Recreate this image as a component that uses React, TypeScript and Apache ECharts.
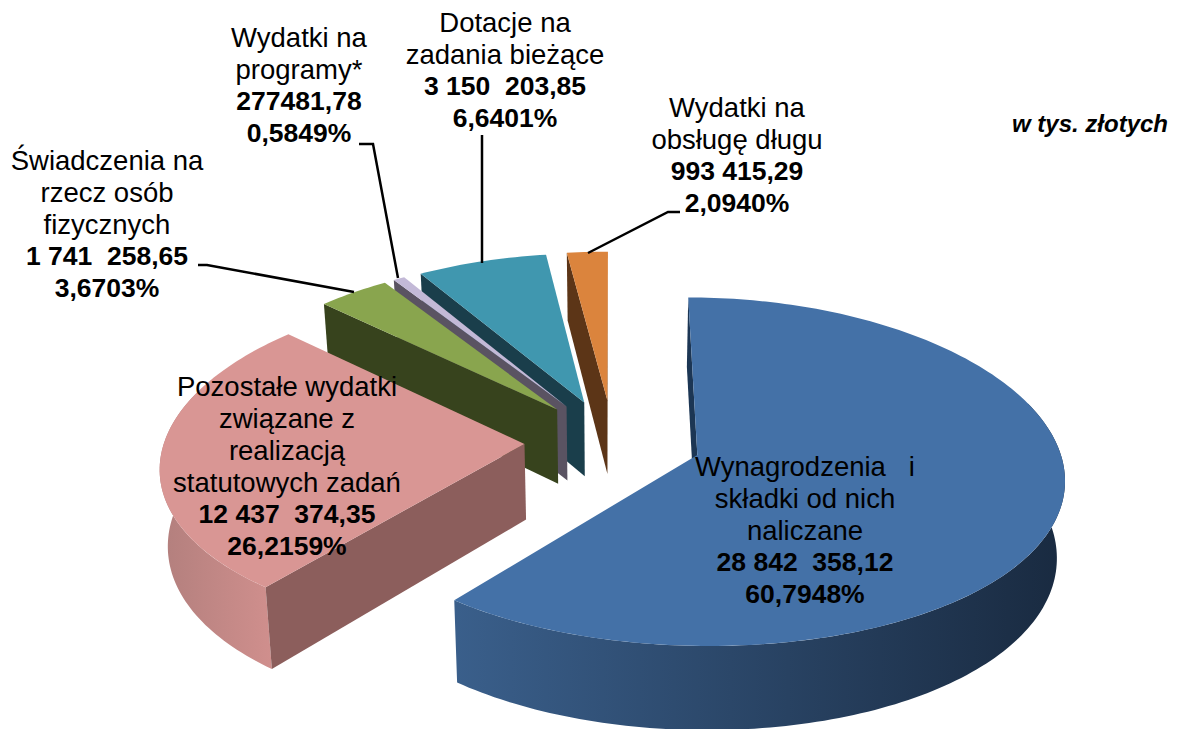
import React, { useEffect, useRef } from "react";
import * as echarts from "echarts";

const sliceNames = ["Wynagrodzenia i składki od nich naliczane", "Pozostałe wydatki związane z realizacją statutowych zadań", "Świadczenia na rzecz osób fizycznych", "Wydatki na programy*", "Dotacje na zadania bieżące", "Wydatki na obsługę długu"];
const sliceValues = [28842358.12, 12437374.35, 1741258.65, 277481.78, 3150203.85, 993415.29];
const topColors = ["#4471a7", "#d99694", "#89a54e", "#c3b9d7", "#4097af", "#db843d"];
const cutColors = ["#1c3654", "#8c5e5c", "#37431d", "#5a5362", "#1a3e4b", "#5c3517"];
const wallStart = ["#3a5f8b", "#b27f7d", "#37431d", "#5a5362", "#1a3e4b", "#5c3517"];
const wallEnd = ["#192a40", "#d08f8d", "#37431d", "#5a5362", "#1a3e4b", "#5c3517"];
const labelLines = [
  ["Wynagrodzenia   i", "składki od nich", "naliczane"],
  ["Pozostałe wydatki", "związane z", "realizacją", "statutowych zadań"],
  ["Świadczenia na", "rzecz osób", "fizycznych"],
  ["Wydatki na", "programy*"],
  ["Dotacje na", "zadania bieżące"],
  ["Wydatki na", "obsługę długu"],
];
const valueLabels = ["28 842  358,12", "12 437  374,35", "1 741  258,65", "277481,78", "3 150  203,85", "993 415,29"];
const percentLabels = ["60,7948%", "26,2159%", "3,6703%", "0,5849%", "6,6401%", "2,0940%"];
const unitLabel = "w tys. złotych";

// layout of the projected pie
const CX = 613, CY = 441, RX = 360, RY = 170, KY = 0.095, KX = 0.12, EXPLODE = 0.246, DEPTH = 75.5, SHRINK = 0.018;
const labelAnchors = [[805, 466], [287, 386], [107, 160], [299, 37], [505, 22], [737, 107]];
const LINE_H = 32;
const FONT = '"Liberation Sans", Arial, sans-serif';
const leaders = [
  [[198, 265], [207, 265], [354, 292]],
  [[359, 144], [373, 144], [398, 278]],
  [[482, 135], [482, 263]],
  [[680, 212], [668, 212], [588, 253]],
];

const total = sliceValues.reduce((a, b) => a + b, 0);

function project(U: number, V: number, z: number) {
  const sy = 1 / (1 - KY * V);
  const sx = 1 / (1 - KX * V);
  const shrink = 1 - SHRINK * z;
  return [CX + RX * U * sx * shrink, CY + RY * V * sy + DEPTH * z * sy];
}

function renderSlice(_params: any, api: any) {
  const i = api.value(0);
  const before = sliceValues.slice(0, i).reduce((a, b) => a + b, 0);
  const a0 = (before / total) * Math.PI * 2;
  const a1 = ((before + sliceValues[i]) / total) * Math.PI * 2;
  const mid = (a0 + a1) / 2;
  const ex = Math.sin(mid) * EXPLODE;
  const ey = -Math.cos(mid) * EXPLODE;
  const pt = (a: number, r: number, z: number) => project(ex + r * Math.sin(a), ey - r * Math.cos(a), z);
  const arc = (from: number, to: number, z: number) => {
    const n = Math.max(2, Math.ceil(Math.abs(to - from) / 0.02));
    const out: number[][] = [];
    for (let j = 0; j <= n; j++) out.push(pt(from + ((to - from) * j) / n, 1, z));
    return out;
  };
  const children: any[] = [];
  // outer wall
  const w0 = Math.max(a0, Math.PI * 0.4);
  const w1 = Math.min(a1, Math.PI * 1.6);
  if (w1 > w0) {
    const pts = arc(w0, w1, 0).concat(arc(w1, w0, 1));
    children.push({
      type: "polygon",
      shape: { points: pts },
      style: { fill: new echarts.graphic.LinearGradient(0, 0, 1, 0, [{ offset: 0, color: wallStart[i] }, { offset: 1, color: wallEnd[i] }]) },
    });
  }
  // cut faces, only those turned to the viewer
  const face = (a: number, sign: number) => {
    const A = pt(a, 0, 0), B = pt(a, 1, 0), C = pt(a, 1, 1), D = pt(a, 0, 1);
    const cross = (B[0] - A[0]) * (D[1] - A[1]) - (B[1] - A[1]) * (D[0] - A[0]);
    if (cross * sign > 0) children.push({ type: "polygon", shape: { points: [A, B, C, D] }, style: { fill: cutColors[i] } });
  };
  face(a0, -1);
  face(a1, 1);
  // top face
  children.push({
    type: "polygon",
    shape: { points: [pt(0, 0, 0)].concat(arc(a0, a1, 0)) },
    style: { fill: topColors[i] },
  });
  return { type: "group", children };
}

function textItems() {
  const items: any[] = [];
  labelLines.forEach((lines, i) => {
    const [x, y] = labelAnchors[i];
    const all = [...lines, valueLabels[i], percentLabels[i]];
    all.forEach((t, j) => {
      const bold = j >= lines.length;
      items.push({
        type: "text",
        x,
        y: y + j * LINE_H,
        z: 20,
        style: {
          text: t,
          fill: "#000",
          font: `${bold ? "bold 26.5px" : "27.5px"} ${FONT}`,
          textAlign: "center",
          textVerticalAlign: "middle",
        },
      });
    });
  });
  items.push({
    type: "text",
    x: 1168,
    y: 123,
    z: 20,
    style: { text: unitLabel, fill: "#000", font: `italic bold 24px ${FONT}`, textAlign: "right", textVerticalAlign: "middle" },
  });
  leaders.forEach((points) => {
    items.push({ type: "polyline", z: 10, shape: { points }, style: { stroke: "#000", lineWidth: 2.5, fill: "none" } });
  });
  return items;
}

export default function App() {
  const ref = useRef<HTMLDivElement>(null);
  useEffect(() => {
    const chart = echarts.init(ref.current!, undefined, { renderer: "svg" });
    chart.setOption({
      animation: false,
      backgroundColor: "#fff",
      series: [
        {
          type: "custom",
          coordinateSystem: "none",
          renderItem: renderSlice,
          silent: true,
          clip: false,
          encode: {},
          // painted from the back of the pie to the front
          data: [5, 4, 3, 2, 1, 0].map((i) => ({ name: sliceNames[i], value: [i, sliceValues[i]] })),
        },
      ],
      graphic: { elements: textItems() },
    });
    return () => chart.dispose();
  }, []);
  return <div ref={ref} style={{ position: "fixed", left: 0, top: 0, width: 1179, height: 729 }} />;
}
